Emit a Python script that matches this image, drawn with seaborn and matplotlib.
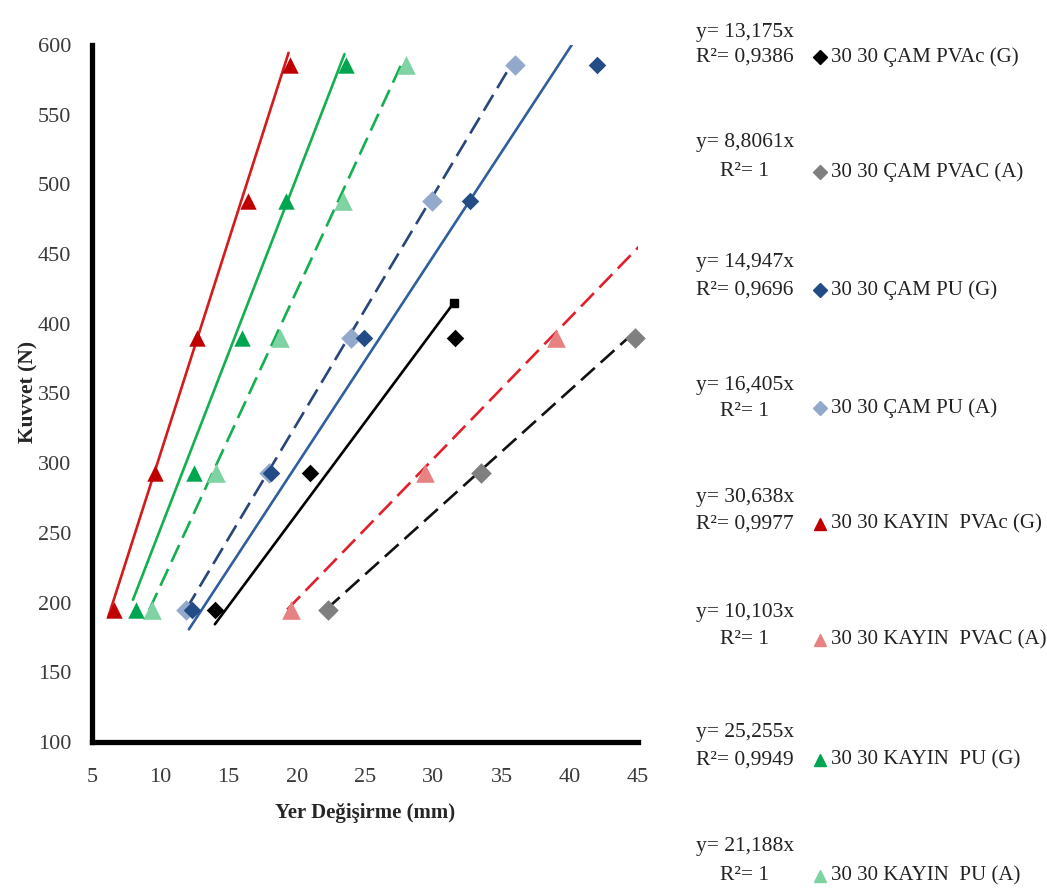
import matplotlib
matplotlib.use("Agg")
import matplotlib.pyplot as plt
import seaborn as sns
import numpy as np
import pandas as pd

# Load levels (N) and measured displacements (mm) for each joint series
force_3 = [195, 293, 390]
force_5 = [195, 293, 390, 488, 586]

cam_pvac_g_x = [14.0, 21.0, 31.6]
cam_pvac_a_x = [22.3, 33.5, 44.8]
cam_pu_g_x = [12.3, 18.1, 24.9, 32.7, 42.0]
cam_pu_a_x = [11.9, 18.0, 24.0, 29.9, 36.0]
kayin_pvac_g_x = [6.6, 9.6, 12.7, 16.4, 19.5]
kayin_pvac_a_x = [19.6, 29.4, 39.0]
kayin_pu_g_x = [8.2, 12.5, 16.0, 19.2, 23.6]
kayin_pu_a_x = [9.4, 14.1, 18.8, 23.4, 28.0]

series_names = [
    "30 30 ÇAM PVAc (G)",
    "30 30 ÇAM PVAC (A)",
    "30 30 ÇAM PU (G)",
    "30 30 ÇAM PU (A)",
    "30 30 KAYIN  PVAc (G)",
    "30 30 KAYIN  PVAC (A)",
    "30 30 KAYIN  PU (G)",
    "30 30 KAYIN  PU (A)",
]
series_x = [cam_pvac_g_x, cam_pvac_a_x, cam_pu_g_x, cam_pu_a_x,
            kayin_pvac_g_x, kayin_pvac_a_x, kayin_pu_g_x, kayin_pu_a_x]
series_y = [force_3, force_3, force_5, force_5,
            force_5, force_3, force_5, force_5]

# Linear trendlines through the origin: y = slope * x
slopes = [13.175, 8.8061, 14.947, 16.405, 30.638, 10.103, 25.255, 21.188]
r2_values = ["0,9386", "1", "0,9696", "1", "0,9977", "1", "0,9949", "1"]
slope_texts = ["13,175", "8,8061", "14,947", "16,405", "30,638", "10,103", "25,255", "21,188"]
trend_x_start = [14.0, 22.14, 12.1, 11.9, 6.2, 19.3, 8.0, 9.2]
trend_x_end = [31.5, 45.5, 42.0, 35.72, 19.4, 46.0, 23.5, 27.66]

x_ticks = [5, 10, 15, 20, 25, 30, 35, 40, 45]
y_ticks = [100, 150, 200, 250, 300, 350, 400, 450, 500, 550, 600]

# Styles
marker_colors = ["#000000", "#7f7f7f", "#234b86", "#93a9cc",
                 "#c00000", "#e88282", "#00a550", "#7fd3a3"]
line_colors = ["#000000", "#111111", "#2f5f9e", "#29467a",
               "#d41a1a", "#e0202a", "#14b050", "#14b050"]
line_styles = ["-", "--", "-", "--", "-", "--", "-", "--"]
markers = ["D", "D", "D", "D", "^", "^", "^", "^"]
marker_sizes = [80, 110, 80, 110, 140, 180, 140, 180]
draw_order = [0, 1, 3, 2, 4, 5, 7, 6]

sns.set_theme(style="white")
plt.rcParams["font.family"] = ["Liberation Serif", "DejaVu Serif"]

fig = plt.figure(figsize=(10.47, 8.93), dpi=100)
ax = fig.add_axes([92 / 1047, 1 - 742 / 893, 546 / 1047, 697 / 893])

for i in draw_order:
    tx = np.array([trend_x_start[i], trend_x_end[i]])
    trend = pd.DataFrame({"x": tx, "y": slopes[i] * tx})
    ls = (0, (7, 3)) if line_styles[i] == "--" else "-"
    sns.lineplot(data=trend, x="x", y="y", ax=ax, color=line_colors[i],
                 linewidth=1.9, linestyle=ls, estimator=None, sort=False,
                 legend=False, zorder=2)

for i in draw_order:
    pts = pd.DataFrame({"x": series_x[i], "y": series_y[i]})
    sns.scatterplot(data=pts, x="x", y="y", ax=ax, marker=markers[i],
                    color=marker_colors[i], s=marker_sizes[i], linewidth=0,
                    legend=False, zorder=3, clip_on=False)

# end cap on the PVAc (G) trendline
ax.plot([trend_x_end[0]], [slopes[0] * trend_x_end[0]], marker="s",
        color="black", markersize=6, zorder=4, clip_on=False)

ax.set_xlim(5, 45)
ax.set_ylim(100, 600)
ax.set_xticks(x_ticks)
ax.set_yticks(y_ticks)
ax.tick_params(axis="both", length=0, labelsize=16, labelcolor="#3a3a3a")
ax.tick_params(axis="y", pad=15)
ax.tick_params(axis="x", pad=19)
ax.set_xlabel("Yer Değişirme (mm)", fontsize=15, fontweight="bold")
ax.set_ylabel("Kuvvet (N)", fontsize=15.5, fontweight="bold")
ax.xaxis.set_label_coords((365 - 92) / 546, -(803 - 742) / 697)
ax.yaxis.set_label_coords(-(92 - 38) / 546, (742 - 392) / 697)
for side in ["top", "right"]:
    ax.spines[side].set_visible(False)
for side in ["left", "bottom"]:
    ax.spines[side].set_linewidth(3.8)
    ax.spines[side].set_color("black")

# Legend column with trendline equations
eq_top_y = [33, 142, 262, 385, 497, 612, 732, 847]
label_y = [57, 172, 290, 408, 524, 640, 760, 876]
r2_y = [57, 172, 290, 412, 524, 640, 760, 876]
W, H = 1047, 893
for i in range(len(series_names)):
    fig.text(745 / W, 1 - eq_top_y[i] / H, f"y= {slope_texts[i]}x",
             ha="center", va="center", fontsize=15.5, color="#222222")
    fig.text(745 / W, 1 - r2_y[i] / H, f"R²= {r2_values[i]}",
             ha="center", va="center", fontsize=15.5, color="#222222")
    fig.text(831 / W, 1 - label_y[i] / H, series_names[i],
             ha="left", va="center", fontsize=15, color="#222222")
    mk = "D" if markers[i] == "D" else "^"
    fig.lines.append(matplotlib.lines.Line2D(
        [820 / W], [1 - label_y[i] / H], transform=fig.transFigure,
        marker=mk, color=marker_colors[i], markersize=7 if mk == "D" else 8,
        linestyle="none"))

fig.savefig("out.png", dpi=100)
